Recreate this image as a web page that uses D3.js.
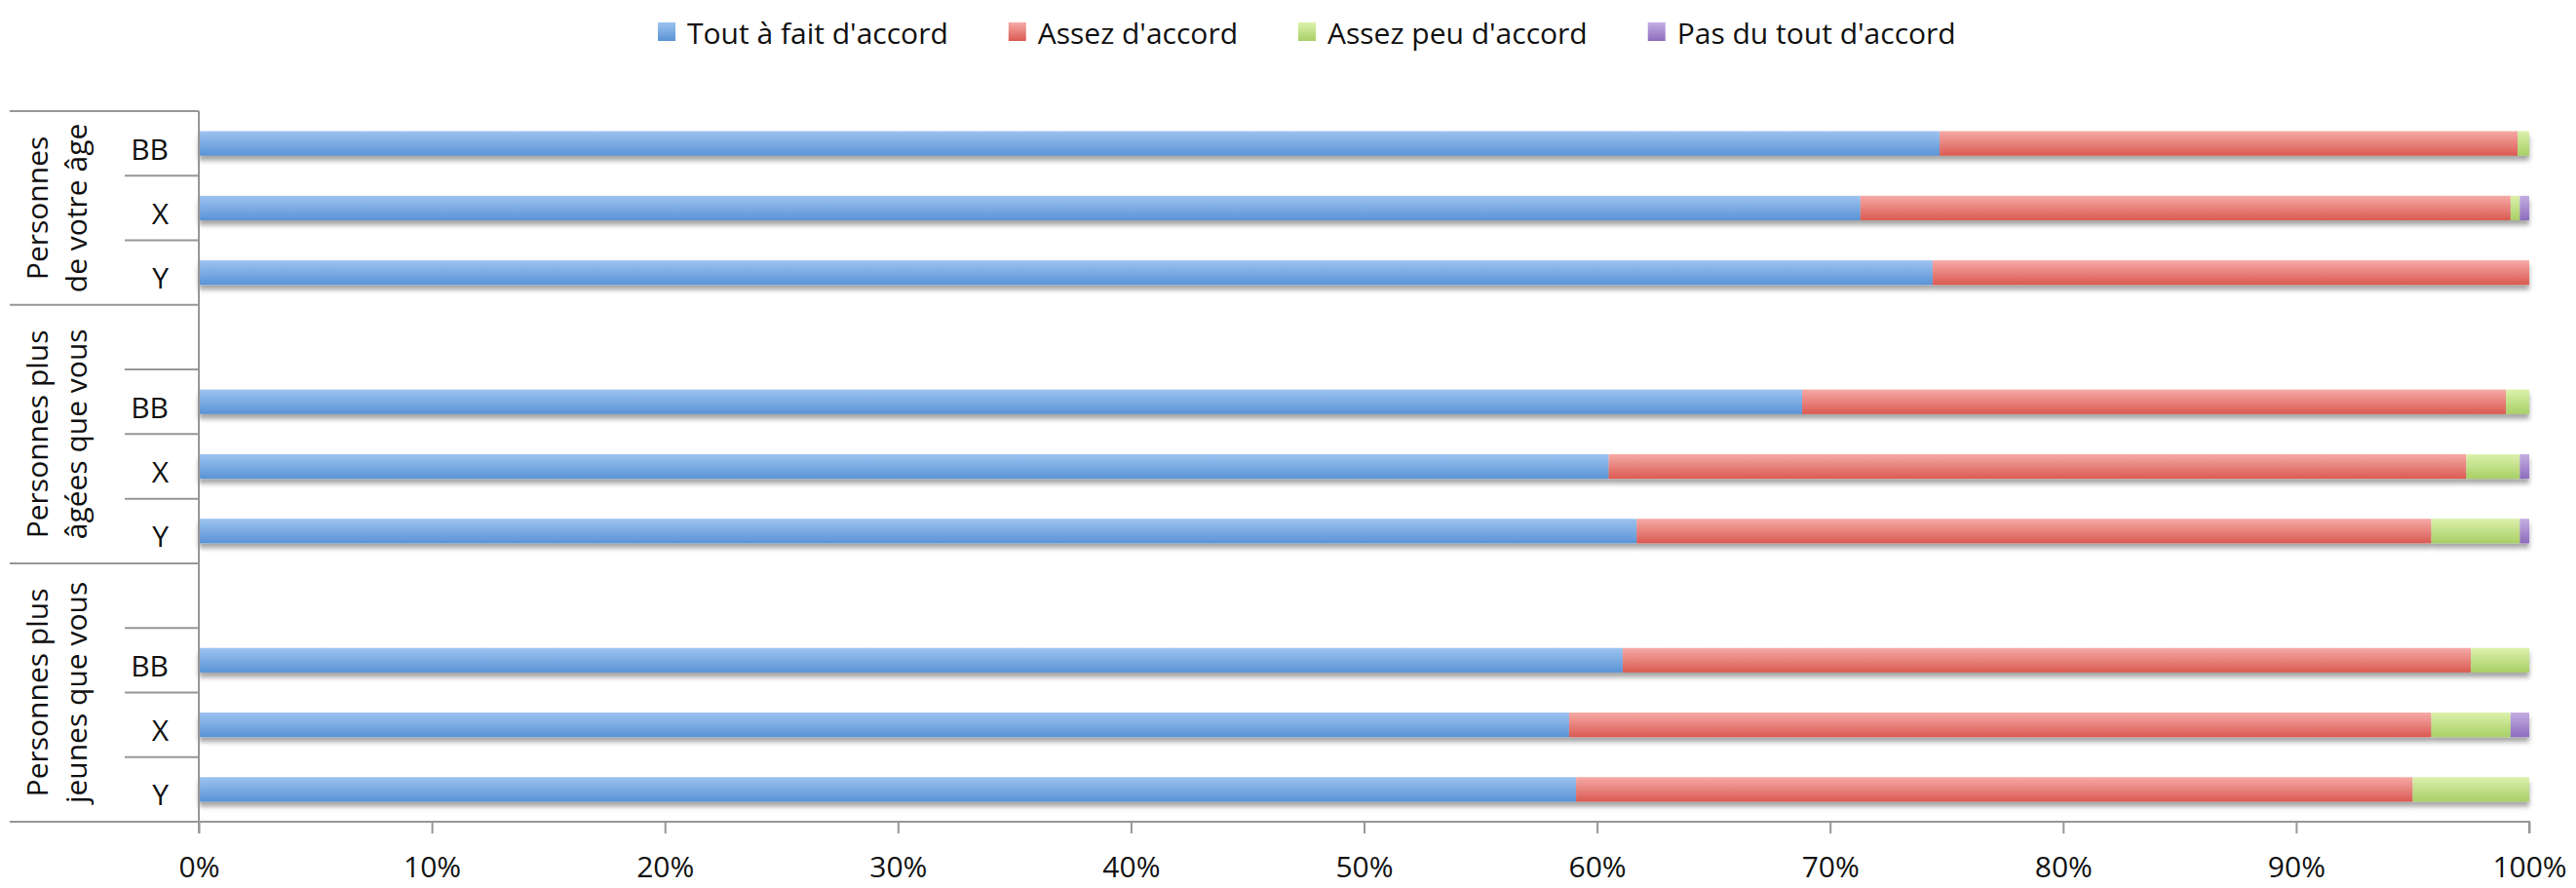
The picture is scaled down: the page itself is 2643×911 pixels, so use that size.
<!DOCTYPE html>
<html>
<head>
<meta charset="utf-8">
<script src="https://cdn.jsdelivr.net/npm/d3@7"></script>
<style>
  html, body { margin: 0; padding: 0; background: #ffffff; }
  svg { display: block; }
  text { font-family: "Open Sans", "Noto Sans", sans-serif; fill: #111111; font-weight: 500; }
</style>
</head>
<body>
<svg id="chart" width="2643" height="911"></svg>
<script>
// ---- data ----
const seriesNames = ["Tout à fait d'accord", "Assez d'accord", "Assez peu d'accord", "Pas du tout d'accord"];
const categories = ["BB", "X", "Y", "", "BB", "X", "Y", "", "BB", "X", "Y"];
const categoryGroup = [0, 0, 0, 1, 1, 1, 1, 2, 2, 2, 2];
const groupLabels = [["Personnes", "de votre âge"], ["Personnes plus", "âgées que vous"], ["Personnes plus", "jeunes que vous"]];
const toutAFait = [74.7, 71.3, 74.4, null, 68.8, 60.5, 61.7, null, 61.1, 58.8, 59.1];
const assez     = [24.8, 27.9, 25.6, null, 30.2, 36.8, 34.1, null, 36.4, 37.0, 35.9];
const assezPeu  = [0.5, 0.4, 0.0, null, 1.0, 2.3, 3.8, null, 2.5, 3.4, 5.0];
const pasDuTout = [0.0, 0.4, 0.0, null, 0.0, 0.4, 0.4, null, 0.0, 0.8, 0.0];
const tickValues = [0, 10, 20, 30, 40, 50, 60, 70, 80, 90, 100];
const tickLabels = ["0%", "10%", "20%", "30%", "40%", "50%", "60%", "70%", "80%", "90%", "100%"];

const seriesValues = [toutAFait, assez, assezPeu, pasDuTout];
const gradStops = [["#9dc3f0", "#5a93d6"], ["#f6aaa6", "#da5a52"], ["#dcf1ac", "#a8cf66"], ["#c4aee2", "#8c6cbe"]];

// ---- layout ----
const svg = d3.select("#chart");
const plotLeft = 204, plotRight = 2595, plotTop = 114, plotBottom = 843;
const fontSize = 30;
const lineColor = "#979797";

const x = d3.scaleLinear().domain([0, 100]).range([plotLeft, plotRight]);
const y = d3.scaleBand().domain(d3.range(categories.length)).range([plotTop, plotBottom])
  .paddingInner(0.62).paddingOuter(0.31);
const step = y.step();

// defs: gradients + shadow
const defs = svg.append("defs");
gradStops.forEach((s, i) => {
  const g = defs.append("linearGradient").attr("id", "grad" + i)
    .attr("x1", 0).attr("y1", 0).attr("x2", 0).attr("y2", 1);
  g.append("stop").attr("offset", "0%").attr("stop-color", s[0]);
  g.append("stop").attr("offset", "100%").attr("stop-color", s[1]);
});
const f = defs.append("filter").attr("id", "shadow")
  .attr("x", "-2%").attr("y", "-40%").attr("width", "104%").attr("height", "220%");
f.append("feDropShadow").attr("dx", 0).attr("dy", 5).attr("stdDeviation", 2.5)
  .attr("flood-color", "#000").attr("flood-opacity", 0.35);

// stacked data
const rows = categories.map((c, i) => {
  let acc = 0;
  const segs = seriesValues.map((arr, s) => {
    const v = arr[i];
    const seg = { s, x0: acc, x1: acc + (v || 0), v };
    acc += (v || 0);
    return seg;
  });
  return { i, c, segs, empty: toutAFait[i] === null };
});

const barsG = svg.append("g");
rows.filter(r => !r.empty).forEach(r => {
  const g = barsG.append("g").attr("filter", "url(#shadow)");
  g.selectAll("rect").data(r.segs.filter(d => d.v > 0)).join("rect")
    .attr("x", d => x(d.x0))
    .attr("width", d => x(d.x1) - x(d.x0))
    .attr("y", y(r.i))
    .attr("height", y.bandwidth())
    .attr("fill", d => `url(#grad${d.s})`);
});

// x axis
const xAxis = d3.axisBottom(x).tickValues(tickValues)
  .tickFormat((d, i) => tickLabels[i]).tickSize(12).tickPadding(24);
const axG = svg.append("g").attr("transform", `translate(0,${plotBottom})`).call(xAxis);
axG.select(".domain").attr("stroke", lineColor).attr("stroke-width", 2)
  .attr("d", `M${plotLeft},0.5V12M${plotLeft},0H${plotRight}V12`);
axG.selectAll(".tick line").attr("stroke", lineColor).attr("stroke-width", 2);
axG.selectAll(".tick text").attr("font-size", fontSize).attr("fill", "#111111")
  .attr("font-family", "Open Sans, Noto Sans, sans-serif");

// left table lines
const tbl = svg.append("g").attr("stroke", lineColor).attr("stroke-width", 2).attr("fill", "none");
tbl.append("line").attr("x1", plotLeft).attr("x2", plotLeft).attr("y1", plotTop).attr("y2", plotBottom);
const groupBounds = groupLabels.map((g, gi) => {
  const idx = categoryGroup.map((v, i) => v === gi ? i : -1).filter(i => i >= 0);
  return { gi, top: y(idx[0]) - y.paddingOuter() * step, bottom: y(idx[idx.length - 1]) - y.paddingOuter() * step + step, idx };
});
const longYs = [plotTop].concat(groupBounds.map(b => b.bottom));
longYs.forEach(yy => tbl.append("line").attr("x1", 10).attr("x2", plotLeft).attr("y1", yy).attr("y2", yy));
groupBounds.forEach(b => {
  b.idx.slice(1).forEach(i => {
    const yy = y(i) - y.paddingOuter() * step;
    tbl.append("line").attr("x1", 128).attr("x2", plotLeft).attr("y1", yy).attr("y2", yy);
  });
});

// category labels
svg.append("g").selectAll("text").data(rows.filter(r => r.c !== "")).join("text")
  .attr("x", 173)
  .attr("y", r => y(r.i) + y.bandwidth() / 2 + 6)
  .attr("dy", "0.35em")
  .attr("text-anchor", "end")
  .attr("font-size", fontSize)
  .text(r => r.c);

// group labels (rotated, two lines)
groupBounds.forEach(b => {
  const cy = (b.top + b.bottom) / 2;
  groupLabels[b.gi].forEach((line, li) => {
    const cx = li === 0 ? 38 : 78;
    svg.append("text")
      .attr("transform", `translate(${cx},${cy}) rotate(-90)`)
      .attr("text-anchor", "middle")
      .attr("dy", "0.35em")
      .attr("font-size", fontSize)
      .text(line);
  });
});

// legend
const legend = svg.append("g");
let lx = 675;
seriesNames.forEach((name, i) => {
  legend.append("rect").attr("x", lx).attr("y", 23).attr("width", 18).attr("height", 19)
    .attr("fill", `url(#grad${i})`);
  const t = legend.append("text").attr("x", lx + 30).attr("y", 45)
    .attr("font-size", fontSize).text(name);
  lx = lx + 30 + t.node().getComputedTextLength() + 62;
});
</script>
</body>
</html>
